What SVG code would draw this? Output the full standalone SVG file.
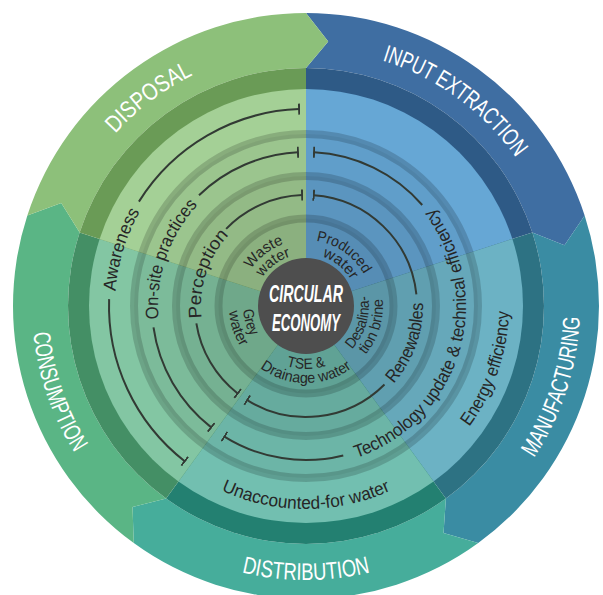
<svg xmlns="http://www.w3.org/2000/svg" width="603" height="595" viewBox="0 0 603 595">
<defs>
<style>
.lbl{font-family:"Liberation Sans Narrow","Liberation Sans",Arial,sans-serif;fill:#ffffff;font-size:24px;}
.t1{font-family:"Liberation Sans Narrow","Liberation Sans",Arial,sans-serif;fill:#262626;font-size:18px;}
.t4{font-family:"Liberation Sans Narrow","Liberation Sans",Arial,sans-serif;fill:#262626;font-size:15px;}
.ctr{font-family:"Liberation Sans Narrow","Liberation Sans",Arial,sans-serif;fill:#ffffff;font-size:23px;font-style:italic;font-weight:bold;}
.arc{fill:none;stroke:#323a34;stroke-width:2;}
.ring{fill:none;stroke:#000000;stroke-opacity:0.17;stroke-width:8;}
.shade{fill:#000000;fill-opacity:0.05;}
</style>
<marker id="bar" viewBox="-1 -6 2 12" refX="0" refY="0" markerWidth="2" markerHeight="12" markerUnits="userSpaceOnUse" orient="auto"><path d="M0,-5.5V5.5" stroke="#323a34" stroke-width="2"/></marker>
<path id="p-disp" d="M88.05,442.19 A257,257 0 0 1 496.99,134.03"/>
<path id="p-inp" d="M112.04,137.39 A257,257 0 0 1 526.29,438.37"/>
<path id="p-man" d="M244.36,572.98 A274,274 0 0 0 413.06,53.78"/>
<path id="p-dist" d="M33.04,329.88 A274,274 0 0 0 578.96,329.88"/>
<path id="p-cons" d="M194.55,55.69 A274,274 0 0 0 372.29,571.86"/>
<path id="p-aw" d="M234.45,483.09 A191,191 0 0 1 345.71,119.17"/>
<path id="p-on" d="M245.80,441.21 A148,148 0 0 1 341.80,162.40"/>
<path id="p-per" d="M264.97,402.65 A105,105 0 0 1 329.62,203.69"/>
<path id="p-en" d="M256.89,502.97 A203,203 0 0 0 388.57,120.55"/>
<path id="p-un" d="M103.77,323.69 A203,203 0 0 0 508.23,323.69"/>
<path id="p-tech" d="M272.73,462.50 A160,160 0 0 0 365.94,157.65"/>
<path id="p-ren" d="M275.72,419.01 A117,117 0 0 0 355.45,199.96"/>
<path id="p-waste1" d="M250.65,341.95 A66,66 0 0 1 354.27,260.99"/>
<path id="p-waste2" d="M261.90,333.56 A52,52 0 0 1 344.64,271.21"/>
<path id="p-prod1" d="M255.44,263.58 A66,66 0 0 1 363.16,339"/>
<path id="p-prod2" d="M268.59,269.88 A52,52 0 0 1 349.11,335.08"/>
<path id="p-des1" d="M292.90,367.62 A63,63 0 0 0 329.60,247.59"/>
<path id="p-des2" d="M289.99,381.32 A77,77 0 0 0 334.85,234.61"/>
<path id="p-tse1" d="M243.24,311.49 A63,63 0 0 0 368.76,311.49"/>
<path id="p-tse2" d="M229.29,312.71 A77,77 0 0 0 382.71,312.71"/>
<path id="p-grey1" d="M283.42,247.18 A63,63 0 0 0 318.02,367.84"/>
<path id="p-grey2" d="M275.91,235.12 A77,77 0 0 0 323.32,381.03"/>
</defs>

<g id="stage-input-extraction">
<path d="M306,13 A293,293 0 0 1 584.66,215.46 L564.49,245.37 L532.35,232.45 A238,238 0 0 0 306,68 L328.22,41.43 Z" fill="#3f6ea2"/>
<path d="M306,306 L306,68 A238,238 0 0 1 532.35,232.45 Z" fill="#2e5a86"/>
<path d="M306,306 L306,89 A217,217 0 0 1 512.38,238.94 Z" fill="#66a7d5"/>
<text class="lbl" text-anchor="middle"><textPath href="#p-inp" startOffset="50%" textLength="168" lengthAdjust="spacingAndGlyphs">INPUT EXTRACTION</textPath></text>
</g>
<g id="stage-manufacturing">
<path d="M584.66,215.46 A293,293 0 0 1 478.22,543.04 L443.54,533.10 L445.89,498.55 A238,238 0 0 0 532.35,232.45 L564.49,245.37 Z" fill="#3a8ca3"/>
<path d="M306,306 L532.35,232.45 A238,238 0 0 1 445.89,498.55 Z" fill="#2d7283"/>
<path d="M306,306 L512.38,238.94 A217,217 0 0 1 433.55,481.56 Z" fill="#6cb2c4"/>
<text class="lbl" text-anchor="middle"><textPath href="#p-man" startOffset="50%" textLength="150" lengthAdjust="spacingAndGlyphs">MANUFACTURING</textPath></text>
</g>
<g id="stage-distribution">
<path d="M478.22,543.04 A293,293 0 0 1 133.78,543.04 L132.52,506.98 L166.11,498.55 A238,238 0 0 0 445.89,498.55 L443.54,533.10 Z" fill="#46ad9b"/>
<path d="M306,306 L445.89,498.55 A238,238 0 0 1 166.11,498.55 Z" fill="#238071"/>
<path d="M306,306 L433.55,481.56 A217,217 0 0 1 178.45,481.56 Z" fill="#72bfb0"/>
<text class="lbl" text-anchor="middle"><textPath href="#p-dist" startOffset="50%" textLength="130" lengthAdjust="spacingAndGlyphs">DISTRIBUTION</textPath></text>
</g>
<g id="stage-consumption">
<path d="M133.78,543.04 A293,293 0 0 1 27.34,215.46 L61.25,203.11 L79.65,232.45 A238,238 0 0 0 166.11,498.55 L132.52,506.98 Z" fill="#5ab585"/>
<path d="M306,306 L166.11,498.55 A238,238 0 0 1 79.65,232.45 Z" fill="#448f65"/>
<path d="M306,306 L178.45,481.56 A217,217 0 0 1 99.62,238.94 Z" fill="#83c6a3"/>
<text class="lbl" text-anchor="middle"><textPath href="#p-cons" startOffset="50%" textLength="128" lengthAdjust="spacingAndGlyphs">CONSUMPTION</textPath></text>
</g>
<g id="stage-disposal">
<path d="M27.34,215.46 A293,293 0 0 1 306,13 L328.22,41.43 L306,68 A238,238 0 0 0 79.65,232.45 L61.25,203.11 Z" fill="#8dc07a"/>
<path d="M306,306 L79.65,232.45 A238,238 0 0 1 306,68 Z" fill="#6a9b56"/>
<path d="M306,306 L99.62,238.94 A217,217 0 0 1 306,89 Z" fill="#a4d096"/>
<text class="lbl" text-anchor="middle"><textPath href="#p-disp" startOffset="50%" textLength="98" lengthAdjust="spacingAndGlyphs">DISPOSAL</textPath></text>
</g>

<g id="rings">
<circle class="shade" cx="306" cy="306" r="172"/>
<circle class="shade" cx="306" cy="306" r="130"/>
<circle class="shade" cx="306" cy="306" r="87.5"/>
<circle class="ring" cx="306" cy="306" r="172"/>
<circle class="ring" cx="306" cy="306" r="130"/>
<circle class="ring" cx="306" cy="306" r="87.5"/>
</g>

<g id="connectors">
<path class="arc" d="M184.71,461.24 A197,197 0 0 1 109.12,299.12" marker-start="url(#bar)"/>
<path class="arc" d="M138.93,201.61 A197,197 0 0 1 299.12,109.12" marker-end="url(#bar)"/>
<path class="arc" d="M211.19,427.35 A154,154 0 0 1 153.50,327.43" marker-start="url(#bar)"/>
<path class="arc" d="M199.02,195.22 A154,154 0 0 1 297.94,152.21" marker-end="url(#bar)"/>
<path class="arc" d="M237.66,393.47 A111,111 0 0 1 196.37,323.36" marker-start="url(#bar)"/>
<path class="arc" d="M226.15,228.89 A111,111 0 0 1 302.13,195.07" marker-end="url(#bar)"/>
<path class="arc" d="M314.06,152.21 A154,154 0 0 1 422.23,204.97" marker-start="url(#bar)"/>
<path class="arc" d="M343.26,455.43 A154,154 0 0 1 224.39,436.60" marker-end="url(#bar)"/>
<path class="arc" d="M313.74,195.27 A111,111 0 0 1 416.39,294.40" marker-start="url(#bar)"/>
<path class="arc" d="M384.49,384.49 A111,111 0 0 1 247.18,400.13" marker-end="url(#bar)"/>
</g>

<g id="awareness"><text class="t1" text-anchor="middle"><textPath href="#p-aw" startOffset="50%" textLength="84" lengthAdjust="spacingAndGlyphs">Awareness</textPath></text></g>
<g id="on-site-practices"><text class="t1" text-anchor="middle"><textPath href="#p-on" startOffset="50%" textLength="124" lengthAdjust="spacingAndGlyphs">On-site practices</textPath></text></g>
<g id="perception"><text class="t1" text-anchor="middle"><textPath href="#p-per" startOffset="50%" textLength="90" lengthAdjust="spacingAndGlyphs">Perception</textPath></text></g>
<g id="energy-efficiency"><text class="t1" text-anchor="middle"><textPath href="#p-en" startOffset="50%" textLength="124" lengthAdjust="spacingAndGlyphs">Energy efficiency</textPath></text></g>
<g id="unaccounted-for-water"><text class="t1" text-anchor="middle"><textPath href="#p-un" startOffset="50%" textLength="175" lengthAdjust="spacingAndGlyphs">Unaccounted-for water</textPath></text></g>
<g id="technology-update"><text class="t1" text-anchor="middle"><textPath href="#p-tech" startOffset="50%" textLength="305" lengthAdjust="spacingAndGlyphs">Technology update &amp; technical efficiency</textPath></text></g>
<g id="renewables"><text class="t1" text-anchor="middle"><textPath href="#p-ren" startOffset="50%" textLength="88" lengthAdjust="spacingAndGlyphs">Renewables</textPath></text></g>

<g id="waste-water">
<text class="t4" text-anchor="middle"><textPath href="#p-waste1" startOffset="50%" textLength="42" lengthAdjust="spacingAndGlyphs">Waste</textPath></text>
<text class="t4" text-anchor="middle"><textPath href="#p-waste2" startOffset="50%" textLength="36" lengthAdjust="spacingAndGlyphs">water</textPath></text>
</g>
<g id="produced-water">
<text class="t4" text-anchor="middle"><textPath href="#p-prod1" startOffset="50%" textLength="60" lengthAdjust="spacingAndGlyphs">Produced</textPath></text>
<text class="t4" text-anchor="middle"><textPath href="#p-prod2" startOffset="50%" textLength="38" lengthAdjust="spacingAndGlyphs">water</textPath></text>
</g>
<g id="desalination-brine">
<text class="t4" text-anchor="middle"><textPath href="#p-des1" startOffset="50%" textLength="58" lengthAdjust="spacingAndGlyphs">Desalina-</textPath></text>
<text class="t4" text-anchor="middle"><textPath href="#p-des2" startOffset="50%" textLength="60" lengthAdjust="spacingAndGlyphs">tion brine</textPath></text>
</g>
<g id="tse-drainage-water">
<text class="t4" text-anchor="middle"><textPath href="#p-tse1" startOffset="50%" textLength="40" lengthAdjust="spacingAndGlyphs">TSE &amp;</textPath></text>
<text class="t4" text-anchor="middle"><textPath href="#p-tse2" startOffset="50%" textLength="98" lengthAdjust="spacingAndGlyphs">Drainage water</textPath></text>
</g>
<g id="grey-water">
<text class="t4" text-anchor="middle"><textPath href="#p-grey1" startOffset="50%" textLength="28" lengthAdjust="spacingAndGlyphs">Grey</textPath></text>
<text class="t4" text-anchor="middle"><textPath href="#p-grey2" startOffset="50%" textLength="38" lengthAdjust="spacingAndGlyphs">water</textPath></text>
</g>

<g id="circular-economy">
<circle cx="306" cy="306" r="48" fill="#4e4e4e"/>
<text class="ctr" x="306" y="302" text-anchor="middle" textLength="74" lengthAdjust="spacingAndGlyphs">CIRCULAR</text>
<text class="ctr" x="306" y="331" text-anchor="middle" textLength="68" lengthAdjust="spacingAndGlyphs">ECONOMY</text>
</g>
</svg>
